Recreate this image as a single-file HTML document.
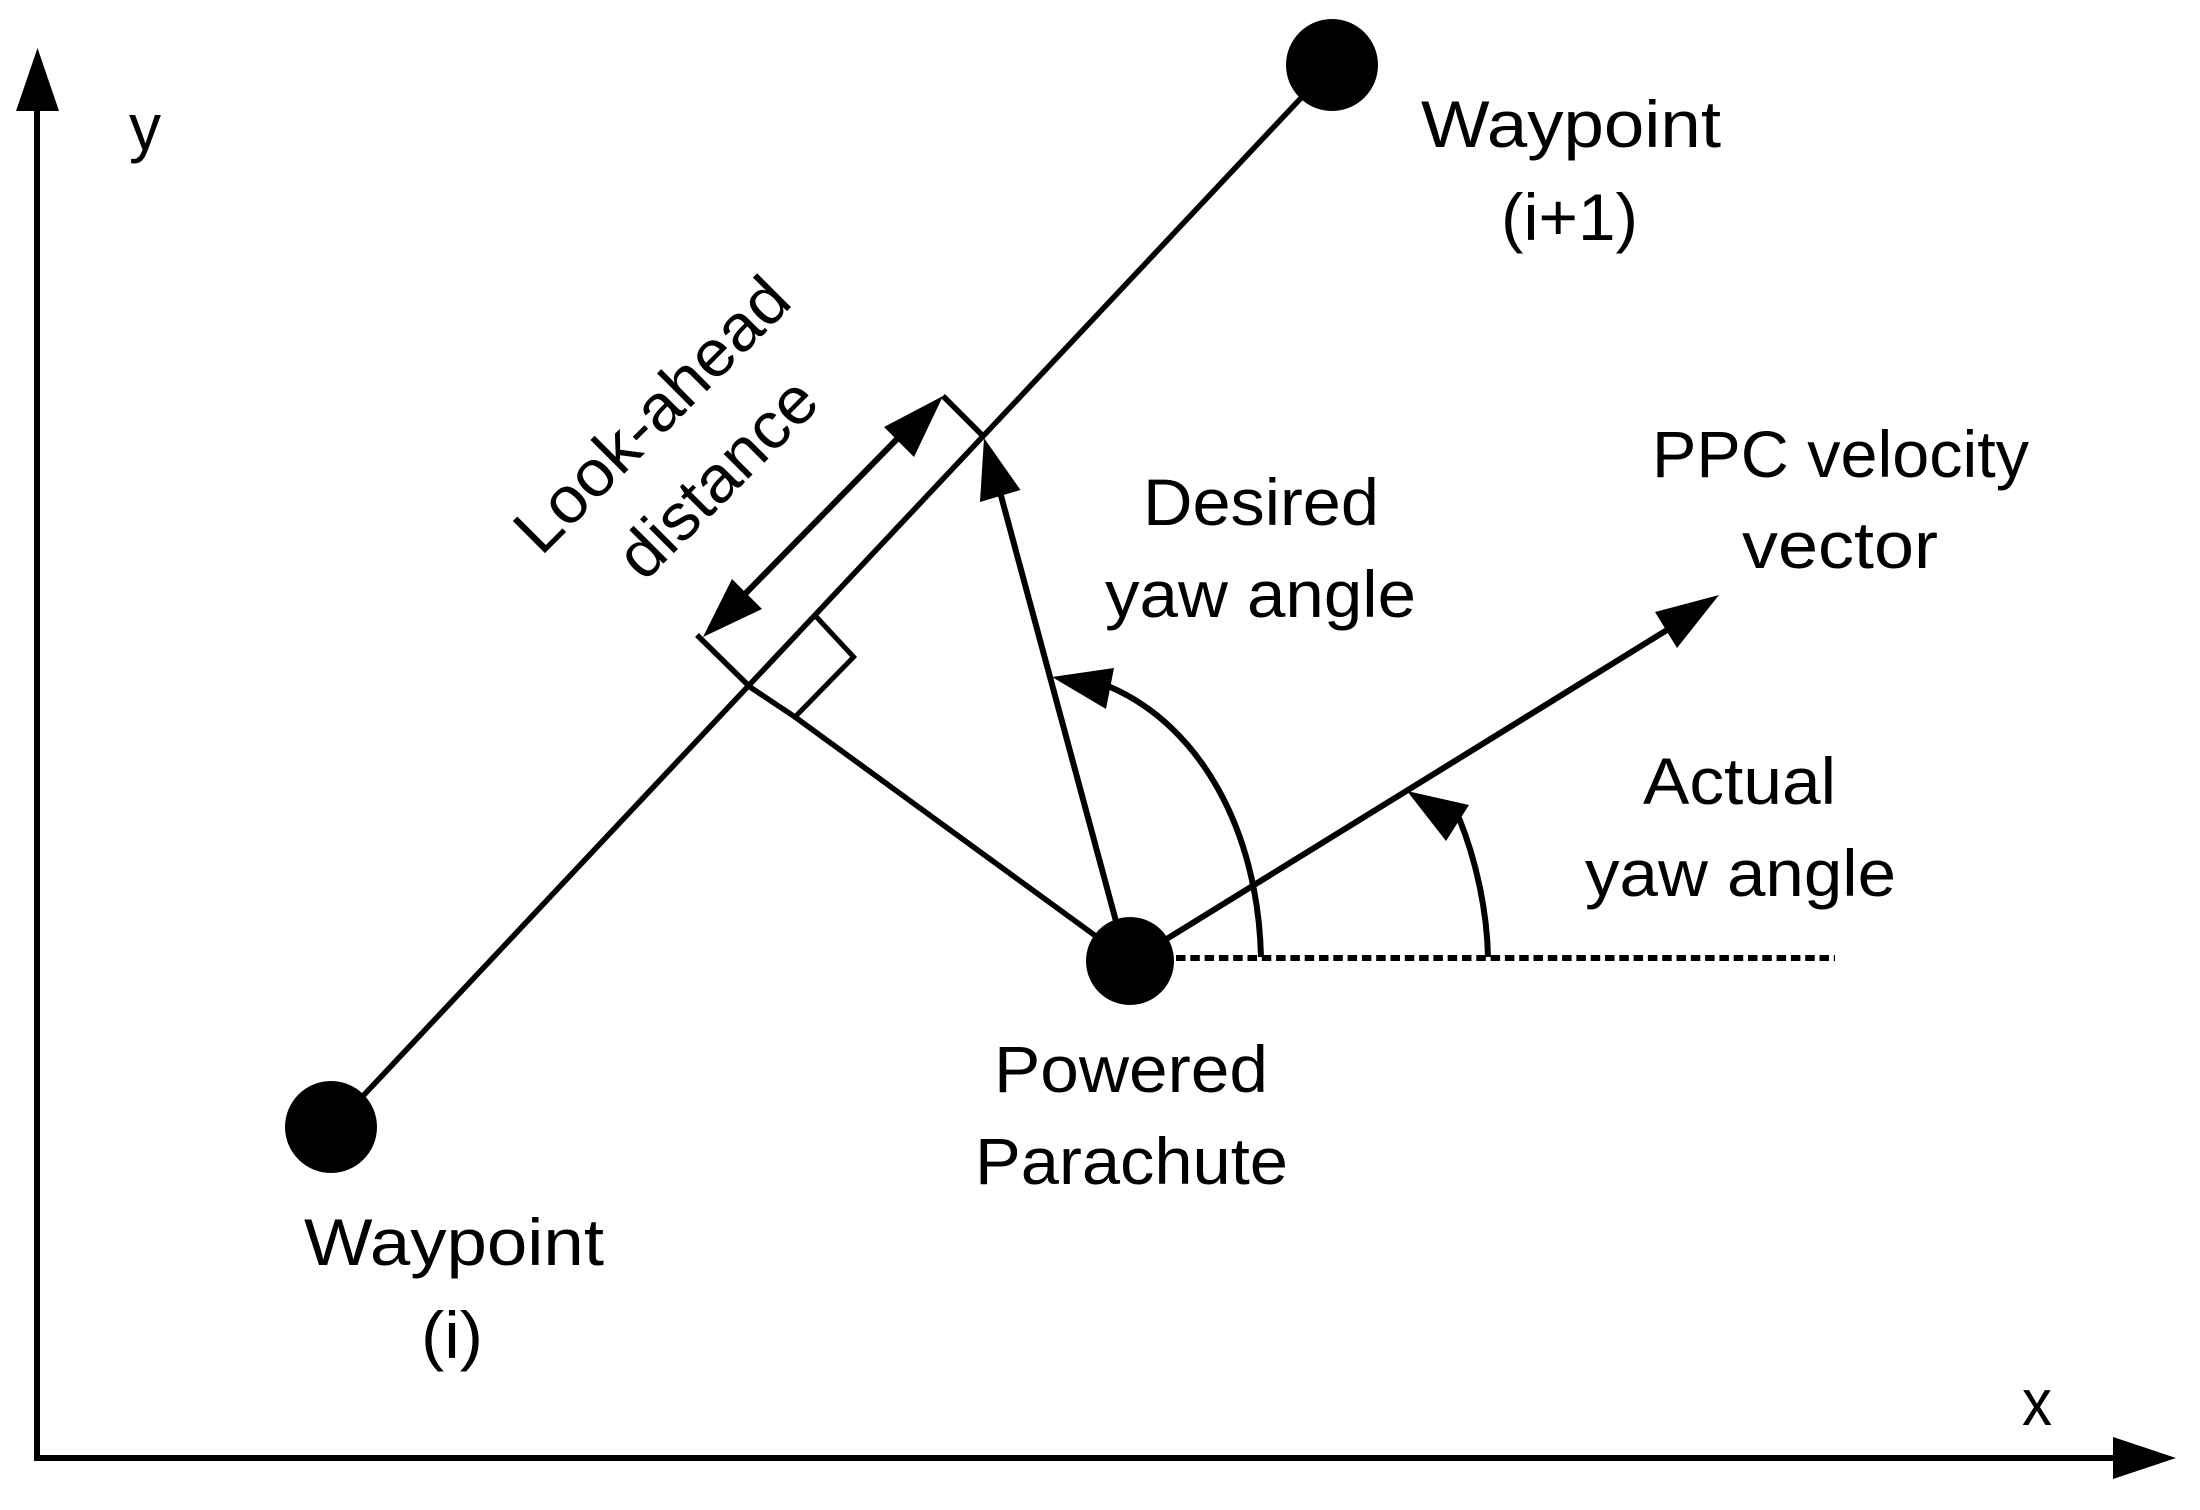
<!DOCTYPE html>
<html><head><meta charset="utf-8"><style>
html,body{margin:0;padding:0;background:#fff}
svg{display:block}
text{font-family:"Liberation Sans",sans-serif;font-size:66px;fill:#000}
</style></head><body>
<svg width="2200" height="1510" viewBox="0 0 2200 1510" xmlns="http://www.w3.org/2000/svg">
<rect width="2200" height="1510" fill="#fff"/>
<g fill="none" stroke="#000" stroke-width="6">
<path d="M37 105V1458H2120"/>
<path d="M331 1130L1332 65" stroke-width="5.5"/>
<path d="M943 396L984 437M697 635L750 687L795 717L1130 961" stroke-width="5.5"/>
<path d="M816.5 617L853.6 657L795 717" stroke-width="5"/>
<path d="M745 594L900 436" stroke-width="6"/>
<path d="M1117 925L1000 492" stroke-width="6"/>
<path d="M1165 940L1667 630" stroke-width="6"/>
<path d="M1261 957C1258 830 1200 725 1108 686" stroke-width="6"/>
<path d="M1488 957C1487 910 1476 860 1459 818" stroke-width="6"/>
<path d="M1176 958H1835" stroke-dasharray="9.5 4.8"/>
</g>
<g fill="#000">
<polygon points="37.5,48 16,111 59,111"/>
<polygon points="2176,1458 2113,1437 2113,1479"/>
<polygon points="943,396 884,427 914,457"/>
<polygon points="703,637 732,579 762,609"/>
<polygon points="984,438 980,502 1020.5,490"/>
<polygon points="1052,677 1114,668 1106,709"/>
<polygon points="1407,791 1469,805 1446,841"/>
<polygon points="1719,595 1655,612 1677,648"/>
<circle cx="1332" cy="65" r="46"/>
<circle cx="331" cy="1127" r="46"/>
<circle cx="1130" cy="961" r="44"/>
</g>
<text x="129" y="150" textLength="32" lengthAdjust="spacingAndGlyphs">y</text>
<text x="2022" y="1425" textLength="30" lengthAdjust="spacingAndGlyphs">x</text>
<text x="1421" y="147" textLength="300" lengthAdjust="spacingAndGlyphs">Waypoint</text>
<text x="1501" y="240" textLength="137" lengthAdjust="spacingAndGlyphs">(i+1)</text>
<text x="1143" y="525" textLength="236" lengthAdjust="spacingAndGlyphs">Desired</text>
<text x="1105" y="617" textLength="311" lengthAdjust="spacingAndGlyphs">yaw angle</text>
<text x="1652" y="477" textLength="377" lengthAdjust="spacingAndGlyphs">PPC velocity</text>
<text x="1742" y="568" textLength="196" lengthAdjust="spacingAndGlyphs">vector</text>
<text x="1643" y="804" textLength="193" lengthAdjust="spacingAndGlyphs">Actual</text>
<text x="1585" y="896" textLength="311" lengthAdjust="spacingAndGlyphs">yaw angle</text>
<text x="994" y="1092" textLength="274" lengthAdjust="spacingAndGlyphs">Powered</text>
<text x="975" y="1184" textLength="313" lengthAdjust="spacingAndGlyphs">Parachute</text>
<text x="304" y="1265" textLength="300" lengthAdjust="spacingAndGlyphs">Waypoint</text>
<text x="421" y="1358" textLength="62" lengthAdjust="spacingAndGlyphs">(i)</text>
<text transform="translate(541 557) rotate(-45)" textLength="358" lengthAdjust="spacingAndGlyphs">Look-ahead</text>
<text transform="translate(644 583) rotate(-45)" textLength="252" lengthAdjust="spacingAndGlyphs">distance</text>
</svg>
</body></html>
